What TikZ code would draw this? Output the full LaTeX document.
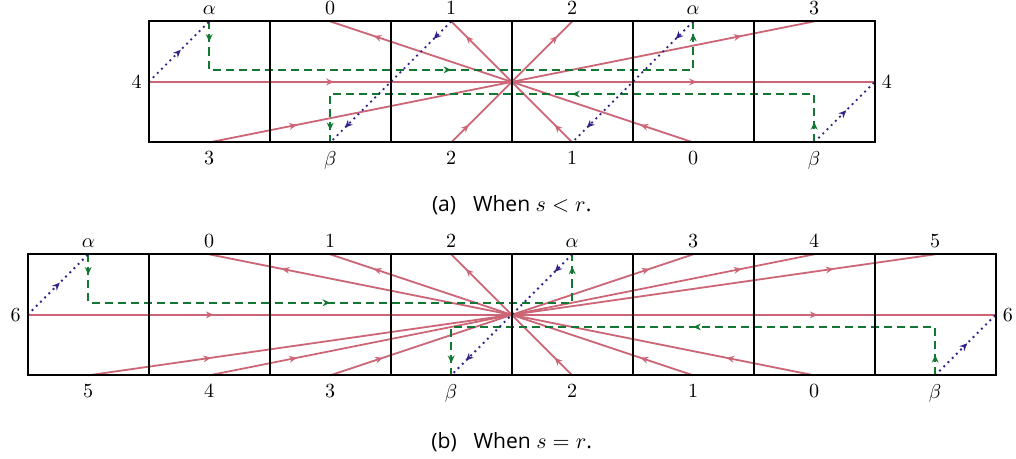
\documentclass[tikz,border=0pt]{standalone}
\usepackage{amsmath, amssymb}
\usepackage{fontspec}
\usepackage{xcolor}
\usetikzlibrary{calc}
\usetikzlibrary{positioning}
\usetikzlibrary{arrows.meta}
\usetikzlibrary{decorations.markings}
\newfontfamily\capfont{Open Sans}
\definecolor{rose}{HTML}{CC6677}
\definecolor{grn}{HTML}{117733}
\definecolor{ind}{HTML}{332288}
\begin{document}
\begin{tikzpicture}[x=2.12cm, y=2.12cm,
		sq/.style = {draw=black, line width=1pt},
		lb/.style = {inner sep=3.33pt},
		r/.style = {draw=rose, line width=0.9pt},
		g/.style = {draw=grn, line width=0.9pt, dash pattern=on 4pt off 2.5pt},
		d/.style = {draw=ind, line width=0.95pt, dotted},
		mk/.style = {postaction={decorate, decoration={markings,
			mark=at position #1 with {\arrow{Stealth[length=3.8pt, width=3.4pt]}}}}},
		two/.style = {mk=0.145, mk=0.88}
		]
		\useasboundingbox (-0.229,-0.686) rectangle (8.168,3.107);
		
		%(a) When s < r
		\begin{scope}[shift={(1,1.93)}]
			%Nodes
			\coordinate (aC) at (3,0.5);
			\coordinate (aL) at (0,0.5);
			\coordinate (aR) at (6,0.5);
			\node[lb, left]		(aLl)	at (aL)	{$4$};
			\node[lb, right]	(aRl)	at (aR)	{$4$};
			\foreach \l [count=\i] in {\alpha,0,1,2,\alpha,3} {
				\coordinate (aT\i) at (\i-0.5,1);
				\node[lb, above] (aTl\i) at (aT\i) {$\l$};
			}
			\foreach \l [count=\i] in {3,\beta,2,1,0,\beta} {
				\coordinate (aB\i) at (\i-0.5,0);
				\node[lb, below=1.2pt] (aBl\i) at (aB\i) {$\l$};
			}
			
			%Lines
			\draw[r, mk=0.255, mk=0.755]	(aL)	--	(aR);
			\draw[r, two]	(aB1)	--	(aT6);
			\draw[r, two]	(aB3)	--	(aT4);
			\draw[r, two]	(aB4)	--	(aT3);
			\draw[r, two]	(aB5)	--	(aT2);
			\draw[g, mk=0.035, mk=0.5, mk=0.979]	(aT1)	--	++(0,-0.4)	-|	(aT5);
			\draw[g, mk=0.035, mk=0.5, mk=0.979]	(aB6)	--	++(0,0.4)	-|	(aB2);
			\draw[d, mk=0.53]	(aL)	--	(aT1);
			\draw[d, two]	(aT3)	--	(aB2);
			\draw[d, two]	(aT5)	--	(aB4);
			\draw[d, mk=0.53]	(aB6)	--	(aR);
			\foreach \i in {0,...,5}
				\draw[sq] (\i,0) rectangle +(1,1);
		\end{scope}
		\node[font=\capfont\fontsize{10.5}{12}\selectfont]	(capa)	at (4,1.413)	{(a)\hspace{0.8em}When $s < r$.};
		
		%(b) When s = r
		\begin{scope}[yshift=0.3pt]
			%Nodes
			\coordinate (bC) at (4,0.5);
			\coordinate (bL) at (0,0.5);
			\coordinate (bR) at (8,0.5);
			\node[lb, left]		(bLl)	at (bL)	{$6$};
			\node[lb, right]	(bRl)	at (bR)	{$6$};
			\foreach \l [count=\i] in {\alpha,0,1,2,\alpha,3,4,5} {
				\coordinate (bT\i) at (\i-0.5,1);
				\node[lb, above] (bTl\i) at (bT\i) {$\l$};
			}
			\foreach \l [count=\i] in {5,4,3,\beta,2,1,0,\beta} {
				\coordinate (bB\i) at (\i-0.5,0);
				\node[lb, below=1.2pt] (bBl\i) at (bB\i) {$\l$};
			}
			
			%Lines
			\draw[r, mk=0.192, mk=0.816]	(bL)	--	(bR);
			\draw[r, two]	(bB1)	--	(bT8);
			\draw[r, two]	(bB2)	--	(bT7);
			\draw[r, two]	(bB3)	--	(bT6);
			\draw[r, two]	(bB5)	--	(bT4);
			\draw[r, two]	(bB6)	--	(bT3);
			\draw[r, two]	(bB7)	--	(bT2);
			\draw[g, mk=0.035, mk=0.5, mk=0.979]	(bT1)	--	++(0,-0.4)	-|	(bT5);
			\draw[g, mk=0.035, mk=0.5, mk=0.979]	(bB8)	--	++(0,0.4)	-|	(bB4);
			\draw[d, mk=0.53]	(bL)	--	(bT1);
			\draw[d, two]	(bT5)	--	(bB4);
			\draw[d, mk=0.53]	(bB8)	--	(bR);
			\foreach \i in {0,...,7}
				\draw[sq] (\i,0) rectangle +(1,1);
		\end{scope}
		\node[font=\capfont\fontsize{10.5}{12}\selectfont]	(capb)	at (4,-0.545)	{(b)\hspace{0.8em}When $s = r$.};
	\end{tikzpicture}
\end{document}
